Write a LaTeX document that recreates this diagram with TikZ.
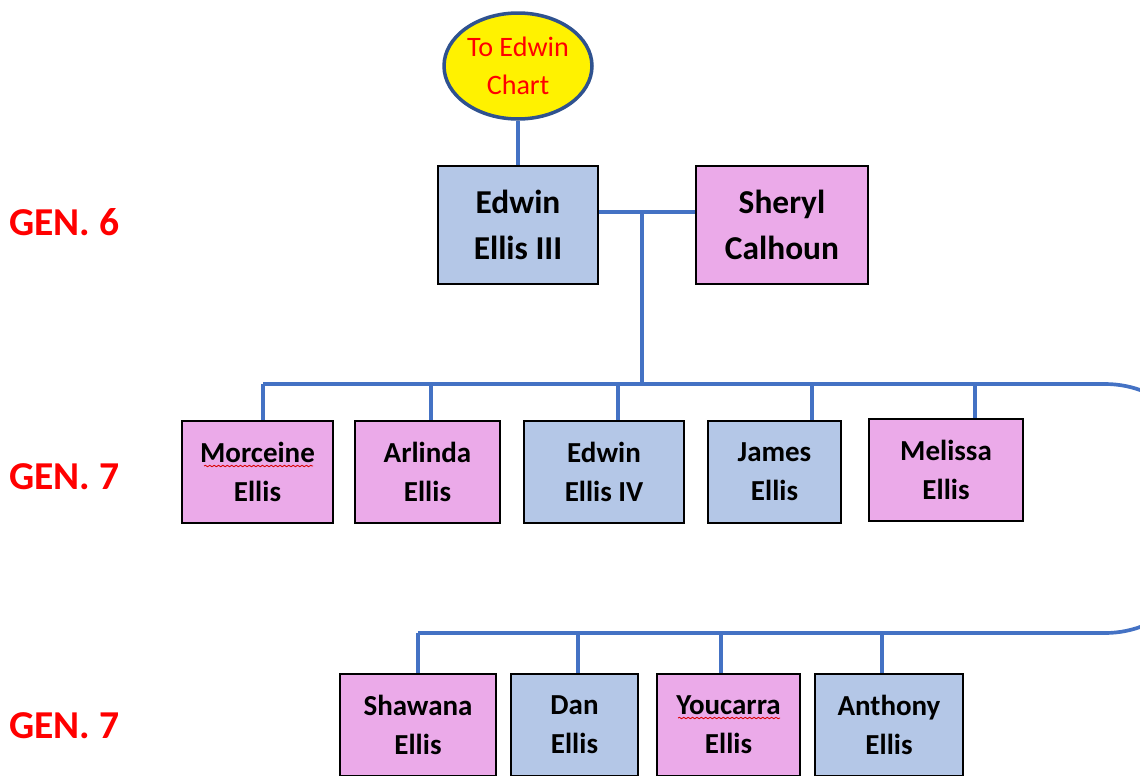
\documentclass[tikz,border=0pt]{standalone}
\usepackage{fontspec}
\setmainfont{Carlito}
\usetikzlibrary{shapes.geometric,decorations.pathmorphing}
\definecolor{boyfill}{HTML}{B4C7E7}
\definecolor{girlfill}{HTML}{EBAAE9}
\definecolor{linkblue}{HTML}{4472C4}
\definecolor{ovalblue}{HTML}{2F528F}
\definecolor{genred}{HTML}{FF0000}

\tikzset{
  person/.style={draw=black, line width=1.2pt, align=center, inner sep=0pt,
    text=black, font=\bfseries\fontsize{16.5}{22}\selectfont},
  boy/.style={person, fill=boyfill},
  girl/.style={person, fill=girlfill},
  elder/.style={font=\bfseries\fontsize{19}{26}\selectfont},
  link/.style={draw=linkblue, line width=2.1pt},
  genlabel/.style={anchor=west, text=genred, inner sep=0pt,
    font=\bfseries\fontsize{22.5}{26}\selectfont},
  spell/.style={draw=red!85!black, line width=0.5pt,
    decorate, decoration={snake, amplitude=0.4pt, segment length=2.5pt}}
}

\begin{document}
\begin{tikzpicture}[x=0.02cm, y=-0.02cm]
\useasboundingbox (0,0) rectangle (1140,775);
\clip (0,0) rectangle (1140,775);

% generation labels
\node[genlabel] (g6)  at (9,222) {GEN. 6};
\node[genlabel] (g7a) at (9,477) {GEN. 7};
\node[genlabel] (g7b) at (9,726) {GEN. 7};

% link to the parent chart
\node[ellipse, draw=ovalblue, line width=2pt, fill=yellow, inner sep=0pt,
      minimum width=2.96cm, minimum height=2.12cm, align=center, text=red,
      font=\fontsize{16}{21.5}\selectfont] (oval) at (518,66) {To Edwin\\Chart};

% couple
\node[boy, elder,  minimum width=3.2cm,  minimum height=2.36cm] (e3)     at (518,225) {Edwin\\Ellis III};
\node[girl, elder, minimum width=3.44cm, minimum height=2.36cm] (sheryl) at (782,225) {Sheryl\\Calhoun};

% children, first row
\node[girl, minimum width=3.02cm, minimum height=2.04cm] (morceine) at (257.5,472) {Morceine\\Ellis};
\node[girl, minimum width=2.9cm,  minimum height=2.04cm] (arlinda)  at (427.5,472) {Arlinda\\Ellis};
\node[boy,  minimum width=3.2cm,  minimum height=2.04cm] (edwin4)   at (604,472)   {Edwin\\Ellis IV};
\node[boy,  minimum width=2.66cm, minimum height=2.04cm] (james)    at (774.5,472) {James\\Ellis};
\node[girl, minimum width=3.08cm, minimum height=2.04cm] (melissa)  at (946,470)   {Melissa\\Ellis};

% children, second row
\node[girl, minimum width=3.12cm, minimum height=2.04cm] (shawana)  at (418,725)   {Shawana\\Ellis};
\node[boy,  minimum width=2.54cm, minimum height=2.04cm] (dan)      at (574.5,725) {Dan\\Ellis};
\node[girl, minimum width=2.86cm, minimum height=2.04cm] (youcarra) at (728.5,725) {Youcarra\\Ellis};
\node[boy,  minimum width=2.96cm, minimum height=2.04cm] (anthony)  at (889,725)   {Anthony\\Ellis};

% spell-check squiggles
\draw[spell] (204,466) -- (313,466);
\draw[spell] (678,718) -- (780,718);

% connectors
\coordinate (cpl) at (642,212);
\coordinate (hub) at (642,384);
\draw[link] (oval.south) -- (e3.north);
\draw[link] (e3.east |- cpl) -- (sheryl.west |- cpl);
\draw[link] (cpl) -- (hub);

% children bus, wrapping round to the second row
\coordinate (b1) at (263,384);
\coordinate (b2) at (431,384);
\coordinate (b3) at (618,384);
\coordinate (b4) at (812,384);
\coordinate (b5) at (975,384);
\coordinate (c1) at (418,633);
\coordinate (c2) at (578,633);
\coordinate (c3) at (721,633);
\coordinate (c4) at (882,633);
\draw[link, rounded corners=2.1cm] (b1) -- (1210,384) -- (1210,633) -- (c1);

\draw[link] (b1) -- (b1 |- morceine.north);
\draw[link] (b2) -- (b2 |- arlinda.north);
\draw[link] (b3) -- (b3 |- edwin4.north);
\draw[link] (b4) -- (b4 |- james.north);
\draw[link] (b5) -- (b5 |- melissa.north);
\draw[link] (c1) -- (c1 |- shawana.north);
\draw[link] (c2) -- (c2 |- dan.north);
\draw[link] (c3) -- (c3 |- youcarra.north);
\draw[link] (c4) -- (c4 |- anthony.north);
\end{tikzpicture}
\end{document}
